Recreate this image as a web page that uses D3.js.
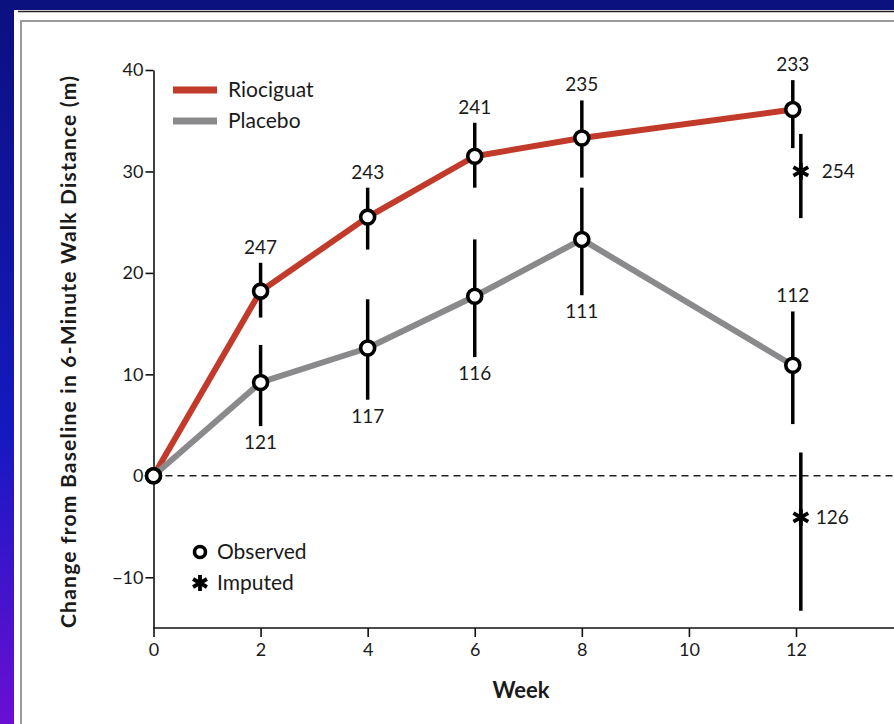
<!DOCTYPE html>
<html>
<head>
<meta charset="utf-8">
<script src="https://cdn.jsdelivr.net/npm/d3@7"></script>
<style>
  html, body { margin: 0; padding: 0; background: #0b1280; }
  svg { display: block; }
  text { font-family: Lato, "Open Sans", sans-serif; fill: #1a1a1a; }
</style>
</head>
<body>
<svg id="svg" width="894" height="724"></svg>
<script>
// ----- data -----
const weeks = [0, 2, 4, 6, 8, 12];
const weekTicks = [0, 2, 4, 6, 8, 10, 12];
const yTicks = [-10, 0, 10, 20, 30, 40];

const rioMean = [0, 18.2, 25.5, 31.5, 33.3, 36.1];
const rioLow  = [null, 15.6, 22.3, 28.4, 29.4, 32.3];
const rioHigh = [null, 21.0, 28.4, 34.8, 37.0, 39.0];
const rioN    = [null, 247, 243, 241, 235, 233];

const plaMean = [0, 9.2, 12.6, 17.7, 23.3, 10.9];
const plaLow  = [null, 4.9, 7.5, 11.7, 17.8, 5.1];
const plaHigh = [null, 12.9, 17.4, 23.3, 28.4, 16.2];
const plaN    = [null, 121, 117, 116, 111, 112];

// imputed week-12 values: riociguat, placebo
const impGroups = ["Riociguat", "Placebo"];
const impMean = [30.0, -4.1];
const impLow  = [25.4, -13.3];
const impHigh = [33.7, 2.3];
const impN    = [254, 126];

const seriesNames = ["Riociguat", "Placebo"];
const seriesColors = ["#c23b2a", "#8a8a8c"];

const svg = d3.select("#svg");
const W = 894, H = 724;

// ----- background panel -----
const defs = svg.append("defs");
const grad = defs.append("linearGradient")
  .attr("id", "bg").attr("x1", 0).attr("y1", 0).attr("x2", 0).attr("y2", 1);
grad.append("stop").attr("offset", "0%").attr("stop-color", "#0b1080");
grad.append("stop").attr("offset", "60%").attr("stop-color", "#1619c0");
grad.append("stop").attr("offset", "100%").attr("stop-color", "#6a0fd4");

svg.append("rect").attr("width", W).attr("height", H).attr("fill", "url(#bg)");
svg.append("rect").attr("x", 0).attr("y", 0).attr("width", W).attr("height", 10).attr("fill", "#0b1280");
svg.append("rect").attr("x", 14).attr("y", 10).attr("width", W - 14).attr("height", H - 10).attr("fill", "#fff");
svg.append("line").attr("x1", 18).attr("x2", W).attr("y1", 11.5).attr("y2", 11.5)
  .attr("stroke", "#222").attr("stroke-width", 1.5);
svg.append("rect").attr("x", 21).attr("y", 21).attr("width", W).attr("height", H)
  .attr("fill", "none").attr("stroke", "#9a9a9a").attr("stroke-width", 2);

// ----- scales -----
const x = d3.scaleLinear().domain([0, 12]).range([153.5, 796]);
const y = d3.scaleLinear().domain([-15, 40]).range([628, 70]);
const obsShift = [0, 0, 0, 0, 0, -0.06];  // slight dodge at week 12
const impShift = 0.09;
const impLabelDx = [21, 15];

const g = svg.append("g");

// y axis
const yAxis = g.append("g")
  .attr("transform", `translate(${x(0)},0)`)
  .call(d3.axisLeft(y).tickValues(yTicks).tickSize(8).tickSizeOuter(0).tickPadding(2));
yAxis.select(".domain").attr("stroke", "#111").attr("stroke-width", 1.6);
yAxis.selectAll(".tick line").attr("stroke", "#111").attr("stroke-width", 1.6);
yAxis.selectAll("text").style("font-size", "18px").attr("fill", "#1a1a1a")
  .style("font-family", "Lato, sans-serif");

// x axis
const xAxis = g.append("g")
  .attr("transform", `translate(0,${y(-15)})`)
  .call(d3.axisBottom(x).tickValues(weekTicks).tickSize(9).tickPadding(6));
xAxis.select(".domain").remove();
xAxis.append("line").attr("x1", x(0)).attr("x2", W).attr("stroke", "#111").attr("stroke-width", 1.6);
xAxis.selectAll(".tick line").attr("stroke", "#111").attr("stroke-width", 1.6);
xAxis.selectAll("text").style("font-size", "18px").attr("fill", "#1a1a1a")
  .style("font-family", "Lato, sans-serif");

// axis titles
g.append("text")
  .attr("transform", `translate(76,${(y(40) + y(-15)) / 2 + 3}) rotate(-90)`)
  .attr("text-anchor", "middle")
  .attr("textLength", 552).attr("lengthAdjust", "spacing")
  .style("font-size", "21px").style("font-weight", "bold")
  .text("Change from Baseline in 6-Minute Walk Distance (m)");
g.append("text")
  .attr("x", 521).attr("y", 698)
  .attr("text-anchor", "middle")
  .style("font-size", "22px").style("font-weight", "bold")
  .text("Week");

// zero reference line
g.append("line")
  .attr("x1", x(0)).attr("x2", W).attr("y1", y(0)).attr("y2", y(0))
  .attr("stroke", "#222").attr("stroke-width", 1.5).attr("stroke-dasharray", "7,5");

// ----- series -----
const series = [
  { name: seriesNames[0], color: seriesColors[0], mean: rioMean, low: rioLow, high: rioHigh, n: rioN,
    above: [null, true, true, true, true, true] },
  { name: seriesNames[1], color: seriesColors[1], mean: plaMean, low: plaLow, high: plaHigh, n: plaN,
    above: [null, false, false, false, false, true] }
];

const line = d3.line()
  .x((d, i) => x(weeks[i] + obsShift[i]))
  .y(d => y(d));

series.forEach(s => {
  g.append("path")
    .datum(s.mean)
    .attr("fill", "none")
    .attr("stroke", s.color)
    .attr("stroke-width", 6)
    .attr("stroke-linejoin", "round")
    .attr("d", line);
});

// error bars
series.forEach(s => {
  const pts = weeks.map((w, i) => ({ w: w + obsShift[i], lo: s.low[i], hi: s.high[i] })).filter(d => d.lo !== null);
  g.selectAll(null).data(pts).enter().append("line")
    .attr("x1", d => x(d.w)).attr("x2", d => x(d.w))
    .attr("y1", d => y(d.lo)).attr("y2", d => y(d.hi))
    .attr("stroke", "#000").attr("stroke-width", 3.5);
});

// imputed error bars
const impData = impGroups.map((k, i) => ({ k, m: impMean[i], lo: impLow[i], hi: impHigh[i], n: impN[i], dx: impLabelDx[i] }));
g.selectAll(null).data(impData).enter().append("line")
  .attr("x1", x(12 + impShift)).attr("x2", x(12 + impShift))
  .attr("y1", d => y(d.lo)).attr("y2", d => y(d.hi))
  .attr("stroke", "#000").attr("stroke-width", 3.5);

// observed circles
const obs = [];
series.forEach(s => weeks.forEach((w, i) => obs.push({ w: w + obsShift[i], v: s.mean[i] })));
g.selectAll(null).data(obs).enter().append("circle")
  .attr("cx", d => x(d.w)).attr("cy", d => y(d.v))
  .attr("r", 7).attr("fill", "#fff").attr("stroke", "#000").attr("stroke-width", 3.6);

// asterisk marker
function star(sel, cx, cy, r) {
  const a = sel.append("g").attr("transform", `translate(${cx},${cy})`);
  [90, 30, -30].forEach(deg => {
    const t = deg * Math.PI / 180;
    a.append("line")
      .attr("x1", -r * Math.cos(t)).attr("y1", -r * Math.sin(t))
      .attr("x2", r * Math.cos(t)).attr("y2", r * Math.sin(t))
      .attr("stroke", "#000").attr("stroke-width", 3.8).attr("stroke-linecap", "butt");
  });
}
impData.forEach(d => star(g, x(12 + impShift), y(d.m), 8.5));

// N labels
series.forEach(s => {
  weeks.forEach((w, i) => {
    if (s.n[i] === null) return;
    const up = s.above[i];
    g.append("text")
      .attr("x", x(w + obsShift[i]))
      .attr("y", up ? y(s.high[i]) - 9 : y(s.low[i]) + 23)
      .attr("text-anchor", "middle")
      .style("font-size", "19px")
      .text(s.n[i]);
  });
});
impData.forEach(d => {
  g.append("text")
    .attr("x", x(12 + impShift) + d.dx)
    .attr("y", y(d.m) + 7)
    .style("font-size", "19px")
    .text(d.n);
});

// ----- legends -----
series.forEach((s, i) => {
  const ly = 90 + i * 31;
  g.append("line").attr("x1", 173).attr("x2", 217).attr("y1", ly).attr("y2", ly)
    .attr("stroke", s.color).attr("stroke-width", 7);
  g.append("text").attr("x", 228).attr("y", ly + 7).style("font-size", "21px").text(s.name);
});

g.append("circle").attr("cx", 200).attr("cy", 552).attr("r", 5.5)
  .attr("fill", "#fff").attr("stroke", "#000").attr("stroke-width", 3.6);
g.append("text").attr("x", 217).attr("y", 559).style("font-size", "21px").text("Observed");
star(g, 200, 583, 8);
g.append("text").attr("x", 217).attr("y", 590).style("font-size", "21px").text("Imputed");
</script>
</body>
</html>
